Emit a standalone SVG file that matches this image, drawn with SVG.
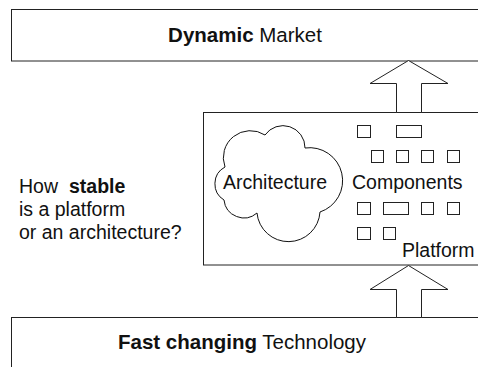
<svg xmlns="http://www.w3.org/2000/svg" width="478" height="367" viewBox="0 0 478 367">
  <style>
    .box { fill: #ffffff; stroke: #222222; stroke-width: 1; }
    .arrow { fill: #ffffff; stroke: #222222; stroke-width: 1; stroke-linejoin: miter; }
    .sq { fill: #ffffff; stroke: #222222; stroke-width: 1; }
    .cloud { fill: #ffffff; stroke: #111111; stroke-width: 1; }
    text { font-family: "Liberation Sans", Arial, Helvetica, sans-serif; font-size: 19.5px; fill: #111111; }
    .big { font-size: 20.5px; }
    .b { font-weight: bold; }
  </style>
  <rect width="478" height="367" fill="#ffffff"/>

  <g id="market">
    <rect class="box" x="11.5" y="9.5" width="480" height="51.5"/>
    <text class="big" x="245" y="42" text-anchor="middle"><tspan class="b">Dynamic</tspan> Market</text>
  </g>

  <g id="technology">
    <rect class="box" x="11.5" y="317.5" width="480" height="60"/>
    <text class="big" x="242" y="349" text-anchor="middle"><tspan class="b">Fast changing</tspan> Technology</text>
  </g>

  <g id="question">
    <text x="19" y="193">How</text>
    <text x="69" y="193" class="b">stable</text>
    <text x="19" y="216">is a platform</text>
    <text x="19" y="239">or an architecture?</text>
  </g>

  <g id="platform">
    <rect class="box" x="203.5" y="112.5" width="290" height="152.5"/>
    <text x="402" y="257">Platform</text>
  </g>

  <g id="architecture">
    <path class="cloud" d="M225,167 A27,27 0 0 1 265,135 A22,22 0 0 1 305,148 A33,33 0 0 1 320,212 A31.6,31.6 0 0 1 257,213 A20,20 0 0 1 224,200 A19,19 0 0 1 225,167 Z"/>
    <text x="223" y="189">Architecture</text>
  </g>

  <g id="components">
    <rect class="sq" x="357.5" y="125.5" width="13" height="12"/>
    <rect class="sq" x="396.5" y="125.5" width="25" height="12"/>
    <rect class="sq" x="371.5" y="150.5" width="12" height="12"/>
    <rect class="sq" x="396.5" y="150.5" width="12" height="12"/>
    <rect class="sq" x="421.5" y="150.5" width="12" height="12"/>
    <rect class="sq" x="447.5" y="150.5" width="12" height="12"/>
    <rect class="sq" x="357.5" y="202.5" width="13" height="12"/>
    <rect class="sq" x="383.5" y="202.5" width="25" height="12"/>
    <rect class="sq" x="421.5" y="202.5" width="12" height="12"/>
    <rect class="sq" x="447.5" y="202.5" width="12" height="12"/>
    <rect class="sq" x="357.5" y="227.5" width="13" height="12"/>
    <rect class="sq" x="383.5" y="227.5" width="12" height="12"/>
    <text x="352" y="189">Components</text>
  </g>

  <g id="connectors">
    <polygon class="arrow" points="396.5,112.5 396.5,83.5 370,83.5 408.5,60.5 448,83.5 421.5,83.5 421.5,112.5"/>
    <polygon class="arrow" points="396.5,317.5 396.5,289.5 370,289.5 408.5,265.5 448,289.5 421.5,289.5 421.5,317.5"/>
  </g>
</svg>
